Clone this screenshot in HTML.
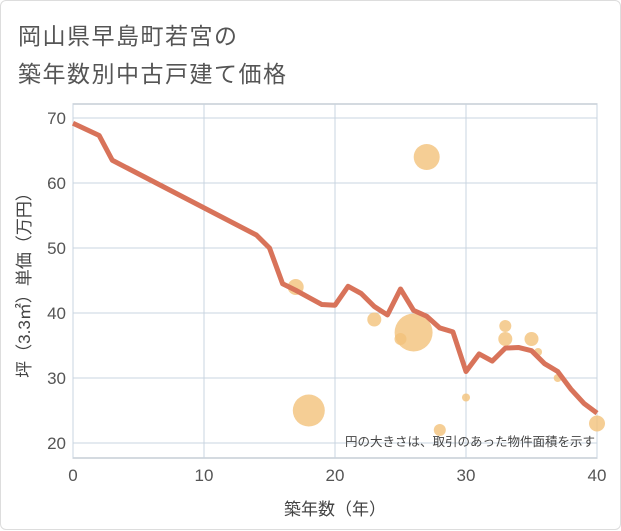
<!DOCTYPE html>
<html><head><meta charset="utf-8"><style>
body{margin:0;background:#fff;}
#wrap{position:relative;width:621px;height:530px;font-family:"Liberation Sans","Noto Sans CJK JP",sans-serif;}
.t{position:absolute;left:17px;font-size:23px;color:#555;letter-spacing:1.5px;}
</style></head><body>
<div id="wrap" style="border:1px solid #ddd;box-sizing:border-box;border-radius:6px;">
<div class="t" style="top:16px">岡山県早島町若宮の</div>
<div class="t" style="top:54px">築年数別中古戸建て価格</div>
<svg id="svg" width="621" height="530" style="position:absolute;left:0;top:0"></svg>
</div>
<script>
const lineYears=[0,2,3,14,15,16,17,18,19,20,21,22,23,24,25,26,27,28,29,30,31,32,33,34,35,36,37,38,39,40];
const lineValues=[69.2,67.3,63.5,52,50,44.5,43.5,42.4,41.3,41.2,44.1,43,41,39.7,43.7,40.4,39.5,37.7,37.1,31,33.7,32.6,34.6,34.7,34.2,32.2,31,28.3,26.1,24.6];
const bubbleYears=[17,18,23,25,26,27,28,30,33,33,35,35.5,37,40];
const bubbleValues=[44,25,39,36,37,64,22,27,38,36,36,34,30,23];
const bubbleRadii=[8,16,7,6,19,13,6,4,6,7,7,4,4,8];
const xTicks=[0,10,20,30,40];
const yTicks=[20,30,40,50,60,70];
const L=72,R=596,T=103,B=457;
const xs=v=>L+(v-0)/40*(R-L);
const ys=v=>117+(70-v)*6.5;
const svg=document.getElementById('svg');
const NS='http://www.w3.org/2000/svg';
function mk(tag,a){const e=document.createElementNS(NS,tag);for(const k in a)e.setAttribute(k,a[k]);svg.appendChild(e);return e;}
let r=mk('rect',{x:L,y:T,width:R-L,height:B-T,fill:'#fff',stroke:'#aab4c0'});


xTicks.forEach(t=>{
 let g=mk('line',{x1:xs(t),x2:xs(t),y1:T,y2:B,stroke:'#c8d4e0'});
 
 
 let tx=mk('text',{x:xs(t),y:480,'text-anchor':'middle','font-size':17,fill:'#555'});tx.textContent=t;
 
 
});
yTicks.forEach(t=>{
 let g=mk('line',{x1:L,x2:R,y1:ys(t),y2:ys(t),stroke:'#c8d4e0'});
 
 
 let tx=mk('text',{x:65,y:ys(t)+6,'text-anchor':'end','font-size':17,fill:'#555'});tx.textContent=t;
 
 
});
bubbleYears.forEach((y,i)=>{
 let c=mk('circle',{cx:xs(y),cy:ys(bubbleValues[i]),r:bubbleRadii[i],fill:'#f3c27a','fill-opacity':0.8});
 
 
});
let pts=lineYears.map((y,i)=>xs(y)+','+ys(lineValues[i])).join(' ');
let pl=mk('polyline',{points:pts,fill:'none',stroke:'#d8735a','stroke-width':5,'stroke-linejoin':'round'});


let n=mk('text',{x:594,y:445,'text-anchor':'end','font-size':12.5,fill:'#444'});n.textContent='円の大きさは、取引のあった物件面積を示す';


let xt=mk('text',{x:334,y:514,'text-anchor':'middle','font-size':17,fill:'#444'});xt.textContent='築年数（年）';


let yt=mk('text',{x:0,y:0,'text-anchor':'middle','font-size':17,fill:'#444',transform:'translate(29,280) rotate(-90)'});yt.textContent='坪（3.3㎡）単価（万円）';


</script>
</body></html>
